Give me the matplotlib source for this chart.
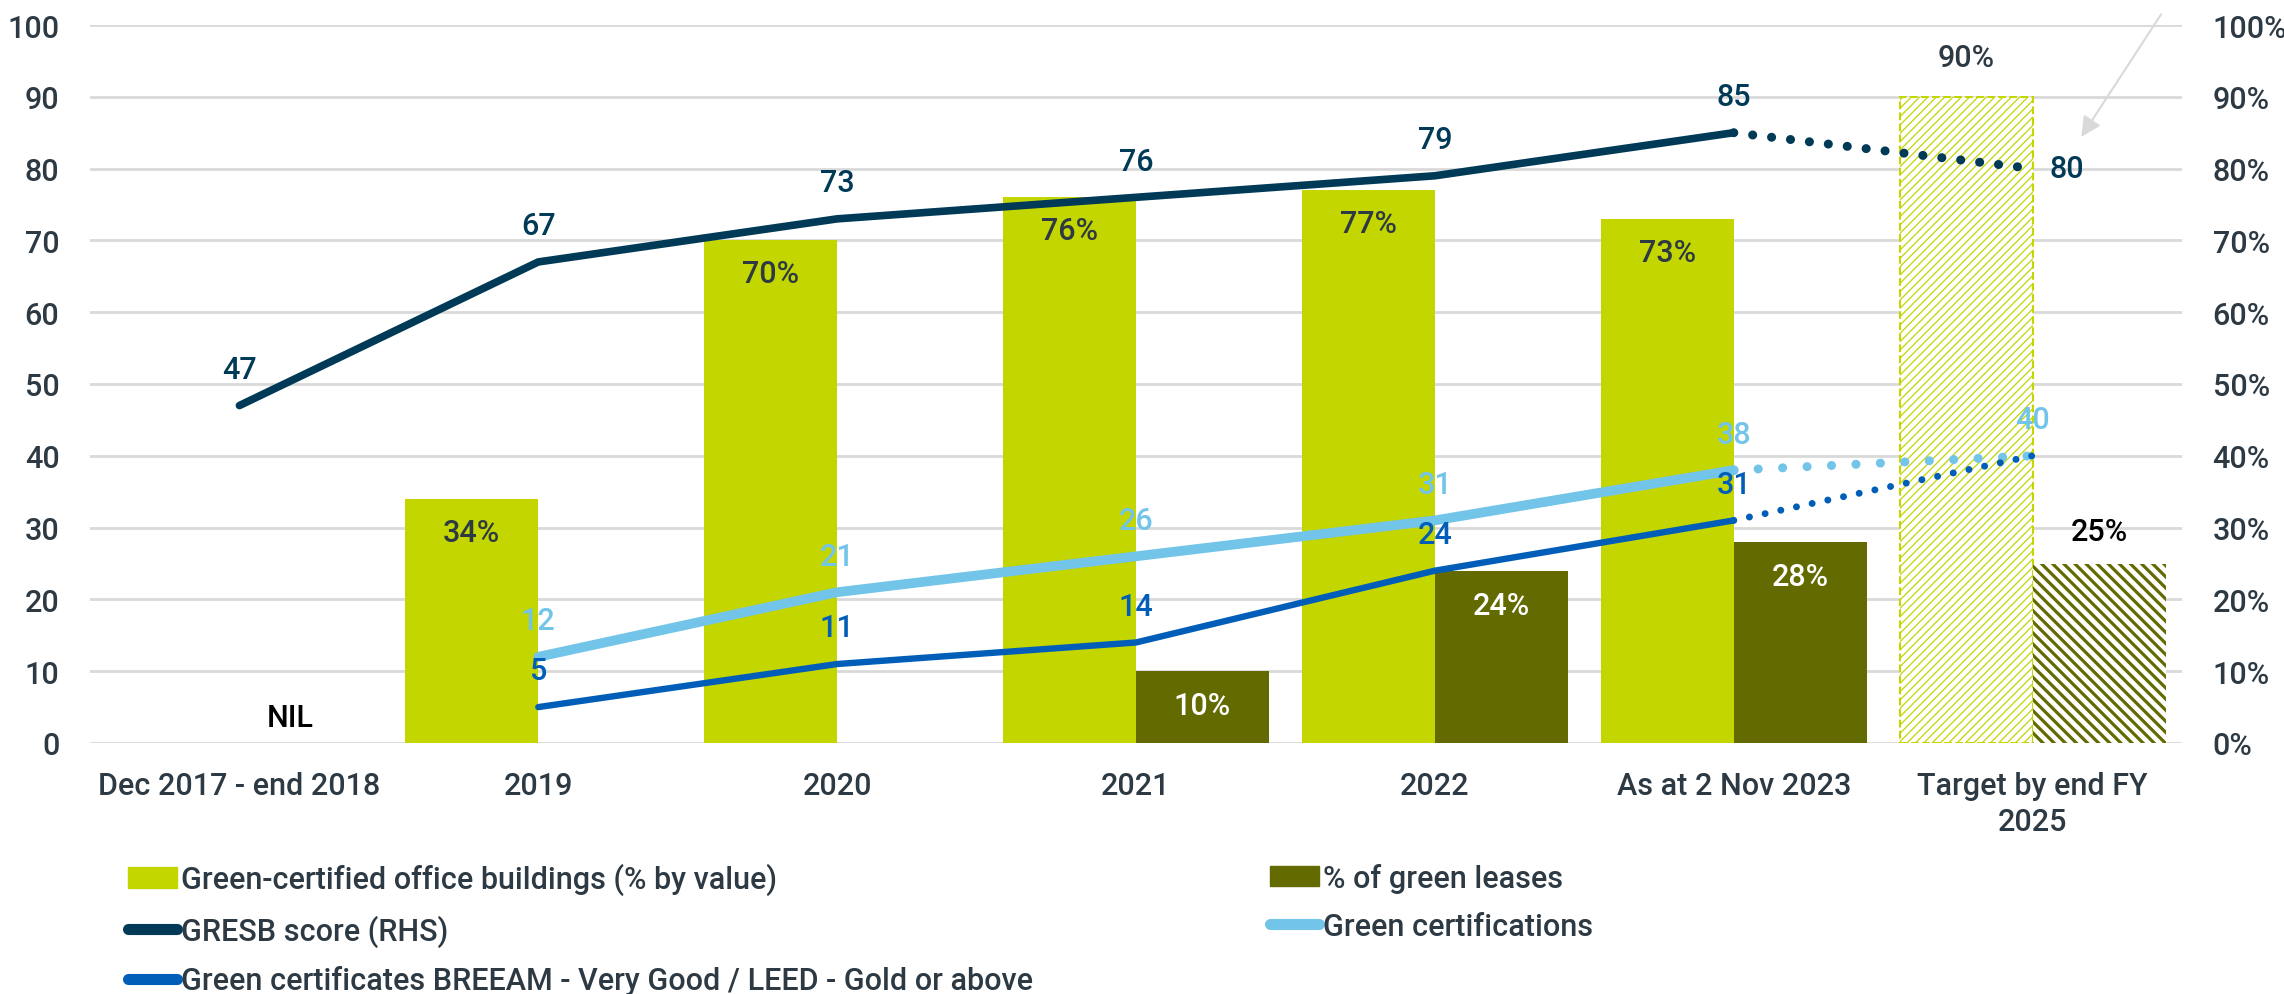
import matplotlib
matplotlib.use('Agg')
import matplotlib.pyplot as plt
import numpy as np
from matplotlib.patches import Patch
from matplotlib.lines import Line2D

plt.rcParams['font.family'] = ['Roboto', 'DejaVu Sans']
plt.rcParams['font.weight'] = 'medium'

# ---------------- data ----------------
categories = ['Dec 2017 - end 2018', '2019', '2020', '2021', '2022',
              'As at 2 Nov 2023', 'Target by end FY\n2025']
green_certified = [np.nan, 34, 70, 76, 77, 73]
green_certified_target = 90
green_leases = [0, np.nan, np.nan, 10, 24, 28]
green_leases_target = 25
gresb = [47, 67, 73, 76, 79, 85]
gresb_target = 80
green_certs = [np.nan, 12, 21, 26, 31, 38]
green_certs_target = 40
breeam = [np.nan, 5, 11, 14, 24, 31]
breeam_target = 40

# ---------------- style ----------------
C_LIME = '#c4d600'
C_OLIVE = '#636b00'
C_NAVY = '#003a57'
C_LBLUE = '#72c5e8'
C_BLUE = '#005eb8'
C_TEXT = '#2d3a44'
C_GRID = '#d9d9d9'
FS = 22

fig = plt.figure(figsize=(22.84, 9.95), dpi=100)
ax = fig.add_axes([90 / 2284, 1 - 744 / 995, (2182 - 90) / 2284, (744 - 26) / 995])

n = len(categories)
x = np.arange(n)
w = 0.445
xh = x[:-1]

# grid
ax.set_ylim(0, 100)
ax.set_xlim(-0.5, n - 0.5)
ax.set_yticks(np.arange(0, 101, 10))
ax.yaxis.grid(True, color=C_GRID, lw=2)
ax.set_axisbelow(True)
for s in ax.spines.values():
    s.set_visible(False)

# bars (actual)
ax.bar(xh - w / 2, green_certified, w, color=C_LIME, zorder=2)
ax.bar(xh + w / 2, green_leases, w, color=C_OLIVE, zorder=2)
# target bars (hatched)
with plt.rc_context({'hatch.linewidth': 0.9}):
    ax.bar(x[-1] - w / 2, green_certified_target, w, facecolor='white', edgecolor=C_LIME,
           hatch='////', linestyle='--', linewidth=1.5, zorder=2)
with plt.rc_context({'hatch.linewidth': 2.3}):
    ax.bar(x[-1] + w / 2, green_leases_target, w, facecolor='white', edgecolor=C_OLIVE,
           hatch='\\\\\\', linewidth=0, zorder=2)

# bar labels
for xi, v in zip(xh - w / 2, green_certified):
    if not np.isnan(v):
        ax.annotate(f'{v:.0f}%', (xi, v), xytext=(0, -24), textcoords='offset points',
                    ha='center', va='center', fontsize=FS, color=C_TEXT, zorder=6)
for xi, v in zip(xh + w / 2, green_leases):
    if not np.isnan(v) and v > 0:
        ax.annotate(f'{v:.0f}%', (xi, v), xytext=(0, -25), textcoords='offset points',
                    ha='center', va='center', fontsize=FS, color='white', zorder=6)
ax.annotate('NIL', (xh[0] + w / 2, green_leases[0]), xytext=(-11, 18), textcoords='offset points',
            ha='center', va='center', fontsize=FS, color='black', zorder=6)
ax.annotate(f'{green_certified_target}%', (x[-1] - w / 2, green_certified_target), xytext=(0, 28),
            textcoords='offset points', ha='center', va='center', fontsize=FS, color=C_TEXT)
ax.annotate(f'{green_leases_target}%', (x[-1] + w / 2, green_leases_target), xytext=(0, 23),
            textcoords='offset points', ha='center', va='center', fontsize=FS, color='black')

# lines
def draw_line(vals, target, color, lw, dot_lw, gap, label_color, label_target=True, target_side=False):
    ax.plot(xh, vals, color=color, lw=lw, solid_capstyle='round', solid_joinstyle='round', zorder=4)
    ax.plot([xh[-1], x[-1]], [vals[-1], target], color=color, lw=dot_lw,
            linestyle=(0, (0.01, gap)), dash_capstyle='round', zorder=4)
    for xi, v in zip(xh, vals):
        if not np.isnan(v):
            ax.annotate(f'{v:.0f}', (xi, v), xytext=(0, 26), textcoords='offset points',
                        ha='center', va='center', fontsize=FS, color=label_color, zorder=6)
    if label_target:
        if target_side:
            ax.annotate(f'{target:.0f}', (x[-1], target), xytext=(12, 0), textcoords='offset points',
                        ha='left', va='center', fontsize=FS, color=label_color, zorder=6)
        else:
            ax.annotate(f'{target:.0f}', (x[-1], target), xytext=(0, 26), textcoords='offset points',
                        ha='center', va='center', fontsize=FS, color=label_color, zorder=6)

draw_line(green_certs, green_certs_target, C_LBLUE, 7, 6.5, 2.7, C_LBLUE)
draw_line(breeam, breeam_target, C_BLUE, 4.6, 5.0, 2.3, C_BLUE, label_target=False)
draw_line(gresb, gresb_target, C_NAVY, 5.5, 6.5, 2.1, C_NAVY, target_side=True)

# arrow
ax.annotate('', xy=(6.158, 84.1), xytext=(6.435, 101.8),
            arrowprops=dict(arrowstyle='-|>', color='#d9d9d9', lw=1.5, mutation_scale=30),
            annotation_clip=False)

# axes ticks
ax.set_xticks(x)
ax.set_xticklabels(categories, fontsize=FS, color=C_TEXT, linespacing=1.3)
ax.tick_params(axis='x', length=0, pad=20)
ax.tick_params(axis='y', length=0, pad=22, labelsize=FS, labelcolor=C_TEXT)

ax2 = ax.twinx()
ax2.set_ylim(0, 100)
ax2.set_yticks(np.arange(0, 101, 10))
ax2.set_yticklabels([f'{v}%' for v in range(0, 101, 10)])
ax2.tick_params(axis='y', length=0, pad=22, labelsize=FS, labelcolor=C_TEXT)
for s in ax2.spines.values():
    s.set_visible(False)

# legends
h1 = [Patch(color=C_LIME), Line2D([], [], color=C_NAVY, lw=8, solid_capstyle='round'),
      Line2D([], [], color=C_BLUE, lw=8, solid_capstyle='round')]
l1 = ['Green-certified office buildings (% by value)', 'GRESB score (RHS)',
      'Green certificates BREEAM - Very Good / LEED - Gold or above']
h2 = [Patch(color=C_OLIVE), Line2D([], [], color=C_LBLUE, lw=8, solid_capstyle='round')]
l2 = ['% of green leases', 'Green certifications']
kw = dict(frameon=False, fontsize=FS, handlelength=1.6, handleheight=0.65, handletextpad=0.15,
          labelspacing=0.62, borderpad=0, borderaxespad=0, loc='upper left', labelcolor=C_TEXT)
leg1 = fig.legend(h1, l1, bbox_to_anchor=(128 / 2284, 1 - 864 / 995), **kw)
leg2 = fig.legend(h2, l2, bbox_to_anchor=(1270 / 2284, 1 - 864 / 995), **kw)

fig.savefig('out.png', dpi=100)
